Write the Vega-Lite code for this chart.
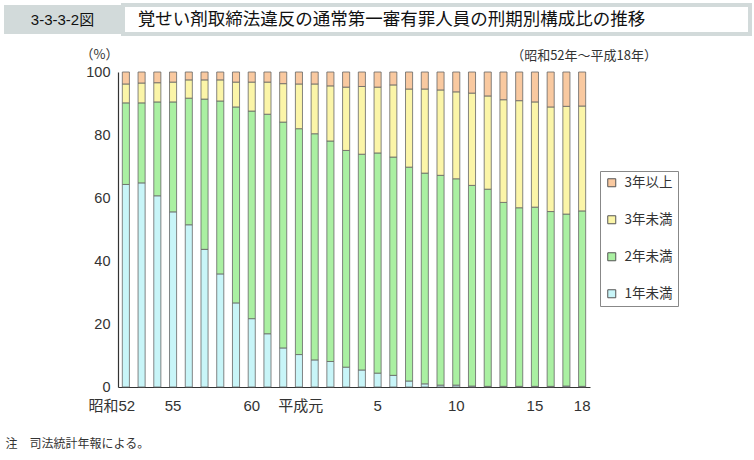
{
  "$schema": "https://vega.github.io/schema/vega-lite/v6.json",
  "autosize": {"type": "pad"},
  "padding": {"left": 4, "top": 3, "right": 0, "bottom": 0},
  "background": "white",
  "spacing": 12,
  "config": {
    "view": {"stroke": null},
    "font": "Noto Sans CJK JP"
  },
  "resolve": {"scale": {"color": "independent"}, "legend": {"color": "independent"}},
  "vconcat": [
    {
      "hconcat": [
        {
          "width": 117,
          "height": 29,
          "view": {"fill": "#d2dada", "stroke": null},
          "data": {"values": [{"t": "3-3-3-2図"}]},
          "mark": {"type": "text", "font": "Liberation Sans, Noto Sans CJK JP", "fontSize": 15, "color": "#111", "align": "center", "baseline": "middle"},
          "encoding": {"text": {"field": "t"}}
        },
        {
          "width": 627,
          "height": 29,
          "view": {"fill": "white", "stroke": "#d2dada", "strokeWidth": 4},
          "data": {"values": [{"t": "覚せい剤取締法違反の通常第一審有罪人員の刑期別構成比の推移"}]},
          "mark": {"type": "text", "font": "Noto Sans CJK JP", "fontSize": 17.5, "color": "#111", "align": "center", "baseline": "middle", "dx": -45},
          "encoding": {"text": {"field": "t"}}
        }
      ],
      "spacing": 0
    },
    {
      "spacing": 0,
      "resolve": {"scale": {"color": "independent"}, "legend": {"color": "independent"}},
      "hconcat": [
        {
          "width": 1,
          "height": 10,
          "data": {"values": []},
          "mark": {"type": "text"}
        },
        {
          "width": 472,
          "height": 315,
          "title": {
            "text": "（昭和52年～平成18年）",
            "anchor": "end",
            "frame": "group",
            "dx": 67,
            "offset": -14.5,
            "font": "Noto Sans CJK JP",
            "fontSize": 13,
            "fontWeight": "normal",
            "color": "#333"
          },
          "data": {
            "values": [
              {"year": 1977, "1年未満": 64.3, "2年未満": 25.9, "3年未満": 6.0, "3年以上": 3.8},
              {"year": 1978, "1年未満": 64.8, "2年未満": 25.4, "3年未満": 6.3, "3年以上": 3.5},
              {"year": 1979, "1年未満": 60.7, "2年未満": 29.8, "3年未満": 6.1, "3年以上": 3.4},
              {"year": 1980, "1年未満": 55.6, "2年未満": 34.9, "3年未満": 6.3, "3年以上": 3.2},
              {"year": 1981, "1年未満": 51.5, "2年未満": 40.2, "3年未満": 5.8, "3年以上": 2.5},
              {"year": 1982, "1年未満": 43.7, "2年未満": 47.7, "3年未満": 6.1, "3年以上": 2.5},
              {"year": 1983, "1年未満": 35.9, "2年未満": 54.9, "3年未満": 6.7, "3年以上": 2.5},
              {"year": 1984, "1年未満": 26.7, "2年未満": 62.2, "3年未満": 7.9, "3年以上": 3.2},
              {"year": 1985, "1年未満": 21.7, "2年未満": 65.9, "3年未満": 9.2, "3年以上": 3.2},
              {"year": 1986, "1年未満": 16.9, "2年未満": 69.7, "3年未満": 10.2, "3年以上": 3.2},
              {"year": 1987, "1年未満": 12.4, "2年未満": 71.7, "3年未満": 12.2, "3年以上": 3.7},
              {"year": 1988, "1年未満": 10.3, "2年未満": 71.7, "3年未満": 14.2, "3年以上": 3.8},
              {"year": 1989, "1年未満": 8.6, "2年未満": 71.8, "3年未満": 15.8, "3年以上": 3.8},
              {"year": 1990, "1年未満": 8.1, "2年未満": 70.0, "3年未満": 17.5, "3年以上": 4.4},
              {"year": 1991, "1年未満": 6.3, "2年未満": 68.8, "3年未満": 20.1, "3年以上": 4.8},
              {"year": 1992, "1年未満": 5.4, "2年未満": 68.5, "3年未満": 21.5, "3年以上": 4.6},
              {"year": 1993, "1年未満": 4.4, "2年未満": 69.9, "3年未満": 20.9, "3年以上": 4.8},
              {"year": 1994, "1年未満": 3.7, "2年未満": 69.3, "3年未満": 22.9, "3年以上": 4.1},
              {"year": 1995, "1年未満": 1.9, "2年未満": 67.9, "3年未満": 24.8, "3年以上": 5.4},
              {"year": 1996, "1年未満": 1.0, "2年未満": 66.9, "3年未満": 26.7, "3年以上": 5.4},
              {"year": 1997, "1年未満": 0.6, "2年未満": 66.6, "3年未満": 27.1, "3年以上": 5.7},
              {"year": 1998, "1年未満": 0.6, "2年未満": 65.5, "3年未満": 27.6, "3年以上": 6.3},
              {"year": 1999, "1年未満": 0.3, "2年未満": 63.7, "3年未満": 29.3, "3年以上": 6.7},
              {"year": 2000, "1年未満": 0.2, "2年未満": 62.6, "3年未満": 29.6, "3年以上": 7.6},
              {"year": 2001, "1年未満": 0.2, "2年未満": 58.4, "3年未満": 32.6, "3年以上": 8.8},
              {"year": 2002, "1年未満": 0.2, "2年未満": 56.7, "3年未満": 34.0, "3年以上": 9.1},
              {"year": 2003, "1年未満": 0.2, "2年未満": 56.9, "3年未満": 33.4, "3年以上": 9.5},
              {"year": 2004, "1年未満": 0.2, "2年未満": 55.5, "3年未満": 33.2, "3年以上": 11.1},
              {"year": 2005, "1年未満": 0.3, "2年未満": 54.6, "3年未満": 34.2, "3年以上": 10.9},
              {"year": 2006, "1年未満": 0.2, "2年未満": 55.7, "3年未満": 33.3, "3年以上": 10.8}
            ]
          },
          "transform": [
            {"fold": ["1年未満", "2年未満", "3年未満", "3年以上"], "as": ["cat", "share"]},
            {"calculate": "indexof(['1年未満','2年未満','3年未満','3年以上'], datum.cat)", "as": "ord"}
          ],
          "mark": {"type": "bar", "stroke": "#666", "strokeWidth": 0.8},
          "encoding": {
            "x": {
              "field": "year",
              "type": "ordinal",
              "scale": {"paddingInner": 0.55, "paddingOuter": 0.275},
              "axis": {
                "title": "注　司法統計年報による。",
                "titleX": -113,
                "titleY": 56,
                "titleAlign": "left",
                "titleBaseline": "middle",
                "titleFont": "Noto Sans CJK JP",
                "titleFontSize": 12,
                "titleFontWeight": "normal",
                "titleColor": "#333",
                "labelAngle": 0,
                "labelExpr": "datum.value == 1977 ? '昭和52' : datum.value == 1980 ? '55' : datum.value == 1985 ? '60' : datum.value == 1989 ? '平成元' : datum.value == 1993 ? '5' : datum.value == 1998 ? '10' : datum.value == 2003 ? '15' : datum.value == 2006 ? '18' : ''",
                "labelOffset": {"condition": {"test": "datum.value == 1977 || datum.value == 1989", "value": -14}, "value": 0},
                "labelFont": "Liberation Sans, Noto Sans CJK JP",
                "labelFontSize": 15,
                "labelColor": "#333",
                "labelPadding": 11,
                "labelOverlap": false,
                "ticks": false,
                "domainColor": "#333",
                "domainWidth": 1.2
              }
            },
            "y": {
              "field": "share",
              "type": "quantitative",
              "stack": "zero",
              "scale": {"domain": [0, 100], "nice": false},
              "axis": {
                "title": "（%）",
                "titleAngle": 0,
                "titleX": -19,
                "titleY": -18,
                "titleAlign": "center",
                "titleBaseline": "middle",
                "titleFont": "Noto Sans CJK JP",
                "titleFontSize": 13,
                "titleFontWeight": "normal",
                "titleColor": "#333",
                "values": [0, 20, 40, 60, 80, 100],
                "labelFont": "Liberation Sans",
                "labelFontSize": 14.5,
                "labelColor": "#333",
                "labelPadding": 8,
                "ticks": false,
                "grid": false,
                "domainColor": "#333",
                "domainWidth": 1.2
              }
            },
            "color": {
              "field": "cat",
              "type": "nominal",
              "scale": {
                "domain": ["3年以上", "3年未満", "2年未満", "1年未満"],
                "range": ["#f9c9a0", "#fbf5a8", "#aaf0a2", "#c8f5f8"]
              },
              "legend": {
                "title": null,
                "orient": "none",
                "legendX": 482,
                "legendY": 99,
                "direction": "vertical",
                "padding": 5,
                "rowPadding": 22,
                "strokeColor": "#888",
                "fillColor": "white",
                "symbolType": "square",
                "symbolSize": 64,
                "symbolStrokeColor": "#555",
                "symbolStrokeWidth": 1,
                "labelFont": "Noto Sans CJK JP",
                "labelFontSize": 13.5,
                "labelColor": "#333",
                "labelOffset": 6
              }
            },
            "order": {"field": "ord", "type": "quantitative", "sort": "ascending"}
          }
        }
      ]
    }
  ]
}
